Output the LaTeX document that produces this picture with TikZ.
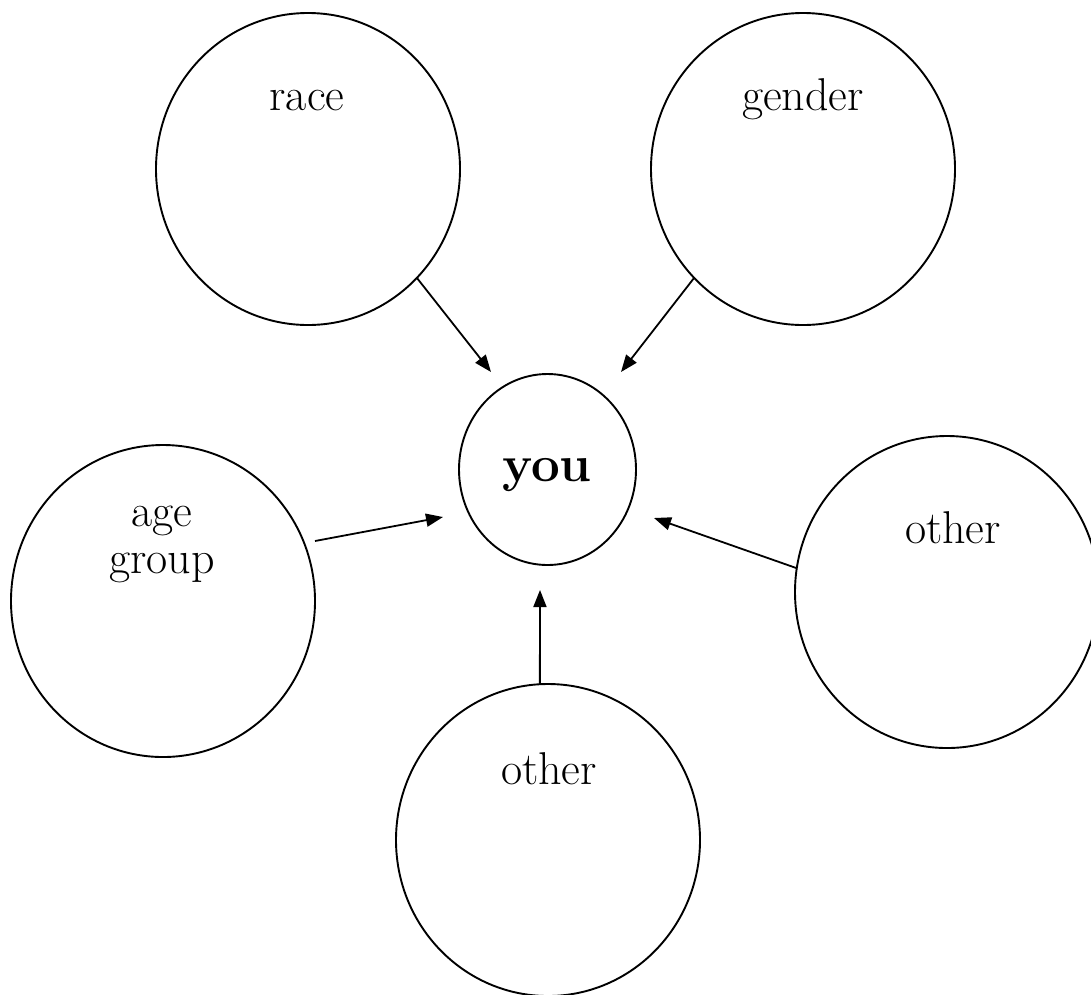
\documentclass[tikz,border=0pt]{standalone}
\usetikzlibrary{shapes.geometric,arrows.meta}
\begin{document}
\begin{tikzpicture}[x=1pt,y=-1pt,
  bubble/.style={draw,ellipse,line width=1.9pt,inner sep=0pt,outer sep=0pt,minimum width=304pt,minimum height=312pt},
  lbl/.style={font=\fontsize{46}{41}\selectfont,inner sep=0pt,align=center},
  conn/.style={line width=1.8pt,-{Triangle[length=17pt,width=13pt]}}]
\useasboundingbox[fill=white] (0,0) rectangle (1091,994);
\node[bubble] (race) at (308,169) {};
\node[bubble] (gender) at (803,169) {};
\node[bubble] (age) at (163,601) {};
\node[bubble] (oR) at (947,592) {};
\node[bubble] (oB) at (548,840) {};
\node[draw,ellipse,line width=1.9pt,inner sep=0pt,outer sep=0pt,minimum width=177pt,minimum height=191pt] (you) at (547.5,469.5) {};
\node[lbl,anchor=base] (tRace) at (307,110) {race};
\node[lbl,anchor=base] (tGender) at (803,110) {gender};
\node[anchor=base,inner sep=0pt,font=\fontsize{51}{55}\selectfont\bfseries] (tYou) at (547,481) {you};
\node[lbl,font=\fontsize{46}{47}\selectfont] (tAge) at (162,544) {age\\group};
\node[lbl,anchor=base] (tOR) at (953,543) {other};
\node[lbl,anchor=base] (tOB) at (549,784) {other};
\coordinate (e1) at (491,372);
\coordinate (e2) at (621,372);
\coordinate (s3) at (315,541);
\coordinate (e3) at (443,517);
\coordinate (e4) at (654,518);
\coordinate (e5) at (540,590);
\draw[conn] (race.-45) -- (e1);
\draw[conn] (gender.-135) -- (e2);
\draw[conn] (s3) -- (e3);
\draw[conn] (oR.171) -- (e4);
\draw[conn] (oB.93) -- (e5);
\end{tikzpicture}
\end{document}
